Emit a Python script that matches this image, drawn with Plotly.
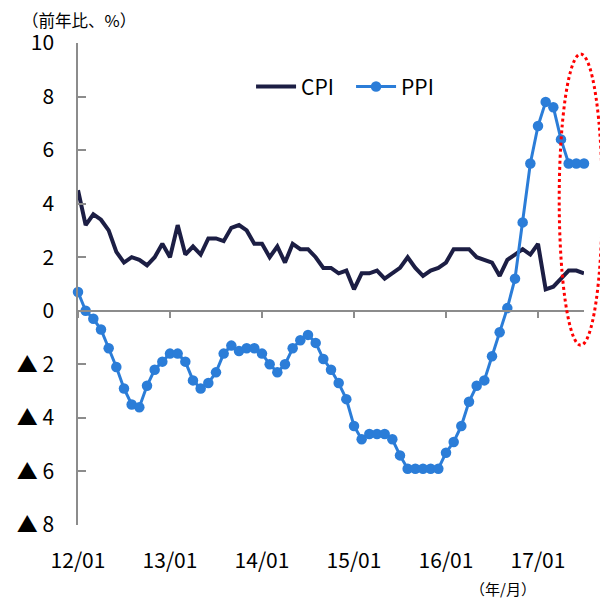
import plotly.graph_objects as go

months = [f"{y:02d}/{m:02d}" for y in range(12, 18) for m in range(1, 13)][:67]

cpi = [4.5, 3.2, 3.6, 3.4, 3.0, 2.2, 1.8, 2.0, 1.9, 1.7, 2.0, 2.5,
       2.0, 3.2, 2.1, 2.4, 2.1, 2.7, 2.7, 2.6, 3.1, 3.2, 3.0, 2.5,
       2.5, 2.0, 2.4, 1.8, 2.5, 2.3, 2.3, 2.0, 1.6, 1.6, 1.4, 1.5,
       0.8, 1.4, 1.4, 1.5, 1.2, 1.4, 1.6, 2.0, 1.6, 1.3, 1.5, 1.6,
       1.8, 2.3, 2.3, 2.3, 2.0, 1.9, 1.8, 1.3, 1.9, 2.1, 2.3, 2.1,
       2.5, 0.8, 0.9, 1.2, 1.5, 1.5, 1.4]

ppi = [0.7, 0.0, -0.3, -0.7, -1.4, -2.1, -2.9, -3.5, -3.6, -2.8, -2.2, -1.9,
       -1.6, -1.6, -1.9, -2.6, -2.9, -2.7, -2.3, -1.6, -1.3, -1.5, -1.4, -1.4,
       -1.6, -2.0, -2.3, -2.0, -1.4, -1.1, -0.9, -1.2, -1.8, -2.2, -2.7, -3.3,
       -4.3, -4.8, -4.6, -4.6, -4.6, -4.8, -5.4, -5.9, -5.9, -5.9, -5.9, -5.9,
       -5.3, -4.9, -4.3, -3.4, -2.8, -2.6, -1.7, -0.8, 0.1, 1.2, 3.3, 5.5,
       6.9, 7.8, 7.6, 6.4, 5.5, 5.5, 5.5]

x_tick_labels = ["12/01", "13/01", "14/01", "15/01", "16/01", "17/01"]
y_tick_vals = [10, 8, 6, 4, 2, 0, -2, -4, -6, -8]
y_tick_text = ["10", "8", "6", "4", "2", "0", "▲ 2", "▲ 4", "▲ 6", "▲ 8"]

idx = list(range(len(months)))
x_tick_vals = [months.index(t) for t in x_tick_labels]

FONT = "Noto Sans CJK JP"
CPI_COLOR = "#1c1e44"
PPI_COLOR = "#2b7dd8"
AXIS_COLOR = "#8c8c8c"

fig = go.Figure()
fig.add_trace(go.Scatter(x=idx, y=cpi, name="CPI", mode="lines",
                         line=dict(color=CPI_COLOR, width=4), cliponaxis=False))
fig.add_trace(go.Scatter(x=idx, y=ppi, name="PPI", mode="lines+markers",
                         line=dict(color=PPI_COLOR, width=3),
                         marker=dict(color=PPI_COLOR, size=10.5), cliponaxis=False))

ymin, ymax = -8, 10
xr = [0, len(months) - 1]

fig.update_layout(
    width=600, height=596,
    margin=dict(l=70, r=24, t=35, b=79, autoexpand=False),
    paper_bgcolor="white", plot_bgcolor="white",
    font=dict(family=FONT, size=21, color="black"),
    showlegend=True,
    legend=dict(orientation="h", x=0.342, y=0.909, xanchor="left", yanchor="middle",
                font=dict(size=21), itemwidth=40, entrywidth=45,
                bgcolor="rgba(0,0,0,0)"),
    xaxis=dict(range=xr, tickvals=x_tick_vals, ticktext=x_tick_labels,
               showline=False, ticks="", showgrid=False, zeroline=False,
               tickfont=dict(size=21), ticklabelstandoff=21, automargin=False),
    xaxis2=dict(range=xr, overlaying="x", anchor="free", side="bottom",
                position=(0 - ymin) / (ymax - ymin),
                tickvals=x_tick_vals, showticklabels=False,
                showline=True, linecolor=AXIS_COLOR, linewidth=1.5,
                ticks="outside", ticklen=6, tickcolor=AXIS_COLOR, tickwidth=1.5,
                showgrid=False, zeroline=False, automargin=False),
    yaxis=dict(range=[ymin, ymax], tickvals=y_tick_vals, ticktext=y_tick_text,
               showline=True, linecolor=AXIS_COLOR, linewidth=1.5,
               ticks="inside", ticklen=8, tickcolor=AXIS_COLOR, tickwidth=1.5,
               showgrid=False, zeroline=False, tickfont=dict(size=21),
               ticklabelstandoff=18, automargin=False),
    annotations=[
        dict(text="（前年比、%）", xref="paper", yref="paper", x=-0.114, y=1.048,
             xanchor="left", yanchor="middle", showarrow=False, font=dict(size=16.5)),
        dict(text="（年/月）", xref="paper", yref="paper", x=0.84, y=-0.131,
             xanchor="center", yanchor="middle", showarrow=False, font=dict(size=15)),
    ],
    shapes=[
        dict(type="circle", xref="paper", yref="paper",
             x0=0.951, x1=1.036, y0=0.373, y1=0.977,
             line=dict(color="#ff0000", width=3, dash="dot")),
    ],
)

fig.add_trace(go.Scatter(x=[], y=[], xaxis="x2", showlegend=False))

fig.write_html("out.html")
